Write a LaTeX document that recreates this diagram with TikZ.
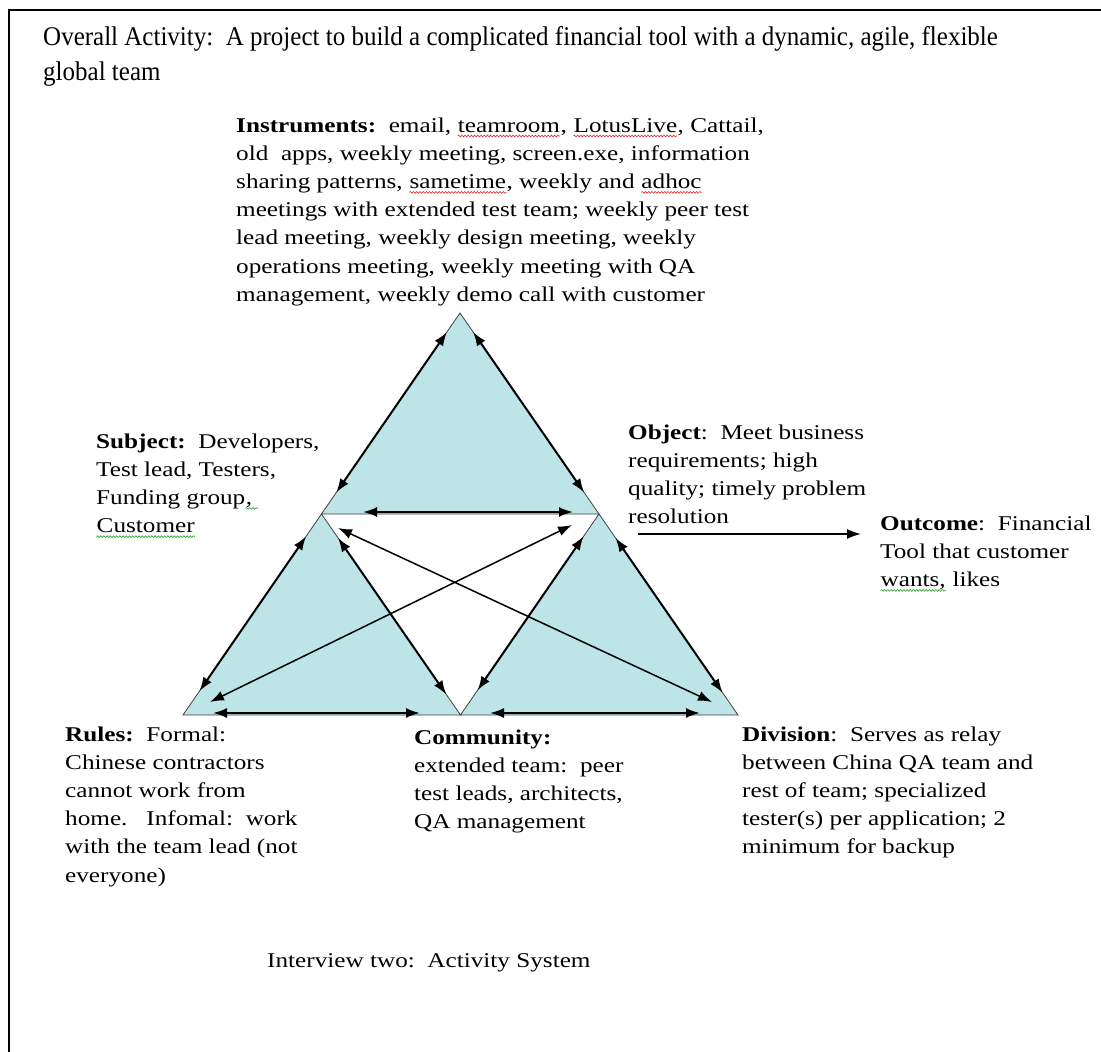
\documentclass[tikz,border=0pt]{standalone}
\usepackage{fontspec}
\setmainfont[FakeStretch=1.2]{Liberation Serif}
\newfontfamily\headfont[FakeStretch=0.926]{Liberation Serif}
\usetikzlibrary{arrows.meta,calc,decorations.pathmorphing}

\definecolor{tri}{RGB}{189,229,232}
\definecolor{spellred}{RGB}{220,40,40}
\definecolor{spellgreen}{RGB}{40,160,40}

% wavy spell-check underline under a word
\newcommand\wavy[2]{\tikz[baseline=(w.base)]{\node[inner sep=0pt,anchor=base](w){#2};
  \draw[#1,line width=0.6pt,decorate,decoration={snake,amplitude=0.9pt,segment length=3.2pt}]
    ([yshift=-4pt]w.base west)--([yshift=-4pt]w.base east);}}

% labels are placed by the baseline of their last line
\tikzset{
  lbl/.style={anchor=base west, inner sep=0pt, align=left, font=\fontsize{21}{28.2}\selectfont},
  tip/.style={Latex[length=14pt,width=10pt]},
  link/.style={line width=2pt, {Latex[length=14pt,width=10pt]}-{Latex[length=14pt,width=10pt]}},
  cross/.style={line width=1.5pt, {Latex[length=14pt,width=10pt]}-{Latex[length=14pt,width=10pt]}},
  result/.style={line width=1.5pt, -{Latex[length=14pt,width=10pt]}},
}

\begin{document}
\begin{tikzpicture}[x=1pt,y=-1pt]
\useasboundingbox (0,0) rectangle (1101,1052);

% page frame (left and top edges)
\draw[line width=2.5pt] (9,1052) -- (9,10) -- (1101,10);

% corner points of the activity triangle
\coordinate (A)  at (460,313);
\coordinate (BL) at (183,715);
\coordinate (BR) at (738,715);
\coordinate (L)  at ($(A)!0.5!(BL)$);
\coordinate (R)  at ($(A)!0.5!(BR)$);
\coordinate (M)  at ($(BL)!0.5!(BR)$);

% the three shaded sub-triangles
\fill[tri] (A) -- (L) -- (R) -- cycle;
\fill[tri] (L) -- (BL) -- (M) -- cycle;
\fill[tri] (R) -- (M) -- (BR) -- cycle;
\draw[draw=black!75, line width=0.8pt] (A) -- (L) -- (R) -- cycle;
\draw[draw=black!75, line width=0.8pt] (L) -- (BL) -- (M) -- cycle;
\draw[draw=black!75, line width=0.8pt] (R) -- (M) -- (BR) -- cycle;

% arrow ends along the edges
\coordinate (t1) at ($(A)!23pt!(L)$);   \coordinate (t2) at ($(L)!26pt!(A)$);
\coordinate (t3) at ($(A)!23pt!(R)$);   \coordinate (t4) at ($(R)!26pt!(A)$);
\coordinate (t5) at (363,512);          \coordinate (t6) at (573,512);
\coordinate (l1) at ($(L)!27pt!(BL)$);  \coordinate (l2) at ($(BL)!29pt!(L)$);
\coordinate (l3) at ($(L)!29pt!(M)$);   \coordinate (l4) at ($(M)!25pt!(L)$);
\coordinate (l5) at (213,713);          \coordinate (l6) at (420,713);
\coordinate (r1) at ($(R)!27pt!(M)$);   \coordinate (r2) at ($(M)!30pt!(R)$);
\coordinate (r3) at ($(R)!29pt!(BR)$);  \coordinate (r4) at ($(BR)!27pt!(R)$);
\coordinate (r5) at (490,713);          \coordinate (r6) at (700,713);
\coordinate (d1) at (338,528);          \coordinate (d2) at (712,702);
\coordinate (d3) at (572,525);          \coordinate (d4) at (210,702);

\draw[link] (t1) -- (t2);
\draw[link] (t3) -- (t4);
\draw[link] (t5) -- (t6);
\draw[link] (l1) -- (l2);
\draw[link] (l3) -- (l4);
\draw[link] (l5) -- (l6);
\draw[link] (r1) -- (r2);
\draw[link] (r3) -- (r4);
\draw[link] (r5) -- (r6);
\draw[cross] (d1) -- (d2);
\draw[cross] (d3) -- (d4);

% heading
\node[anchor=base west, inner sep=0pt, align=left,
      font=\headfont\fontsize{27}{35}\selectfont] (head) at (43,80)
  {Overall Activity:\ \ A project to build a complicated financial tool with a dynamic, agile, flexible\\global team};

% labels of the system
\node[lbl] (instr) at (236,301.2)
  {\textbf{Instruments:}\ \ email, \wavy{spellred}{teamroom}, \wavy{spellred}{LotusLive}, Cattail,\\
   old\ \ apps, weekly meeting, screen.exe, information\\
   sharing patterns, \wavy{spellred}{sametime}, weekly and \wavy{spellred}{adhoc}\\
   meetings with extended test team; weekly peer test\\
   lead meeting, weekly design meeting, weekly\\
   operations meeting, weekly meeting with QA\\
   management, weekly demo call with customer};

\node[lbl] (subj) at (96,532.6)
  {\textbf{Subject:}\ \ Developers,\\
   Test lead, Testers,\\
   Funding group\wavy{spellgreen}{,\hspace{6pt}}\\
   \wavy{spellgreen}{Customer}};

\node[lbl] (obj) at (628,523.6)
  {\textbf{Object}:\ \ Meet business\\
   requirements; high\\
   quality; timely problem\\
   resolution};

\node[lbl] (outc) at (880,586.4)
  {\textbf{Outcome}:\ \ Financial\\
   Tool that customer\\
   \wavy{spellgreen}{wants,} likes};

\node[lbl] (rules) at (65,882)
  {\textbf{Rules:}\ \ Formal:\\
   Chinese contractors\\
   cannot work from\\
   home.\ \ \ Infomal:\ \ work\\
   with the team lead (not\\
   everyone)};

\node[lbl] (comm) at (414,828.6)
  {\textbf{Community:}\\
   extended team:\ \ peer\\
   test leads, architects,\\
   QA management};

\node[lbl] (div) at (742,853.8)
  {\textbf{Division}:\ \ Serves as relay\\
   between China QA team and\\
   rest of team; specialized\\
   tester(s) per application; 2\\
   minimum for backup};

\node[lbl] (cap) at (267,967) {Interview two:\ \ Activity System};

% object leads to outcome
\coordinate (o1) at (638,534);
\coordinate (o2) at (861,534);
\draw[result] (o1) -- (o2);
\end{tikzpicture}
\end{document}
